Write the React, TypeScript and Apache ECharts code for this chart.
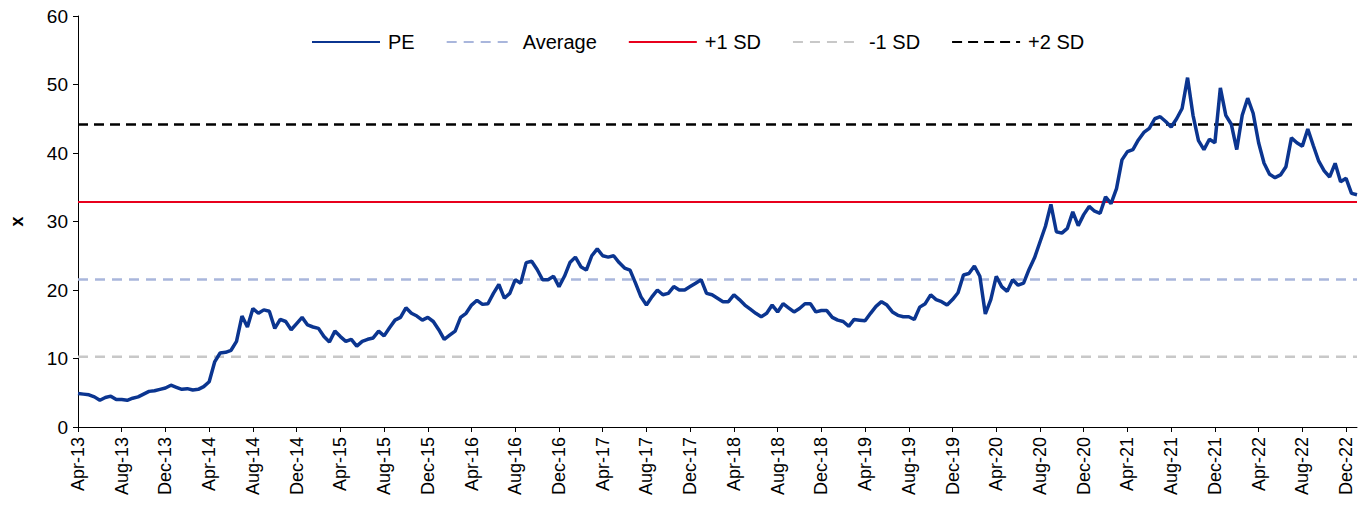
import React, { useEffect, useRef } from "react";
import * as echarts from "echarts";

// Half-monthly PE readings, starting Apr-2013 (two points per month)
const PE_VALUES: number[] = [
  4.9, 4.8, 4.7, 4.4, 3.9, 4.3, 4.5, 4.0, 4.0, 3.9, 4.2, 4.4, 4.8, 5.2, 5.3, 5.5, 5.7, 6.1, 5.8, 5.5,
  5.6, 5.4, 5.5, 5.9, 6.6, 9.5, 10.8, 10.9, 11.2, 12.5, 16.2, 14.6, 17.3, 16.6, 17.1, 16.9, 14.4, 15.7, 15.4, 14.2,
  15.1, 16.0, 14.9, 14.6, 14.4, 13.2, 12.4, 14.0, 13.2, 12.5, 12.8, 11.8, 12.5, 12.8, 13.0, 14.0, 13.3, 14.5, 15.6, 16.0,
  17.4, 16.6, 16.2, 15.6, 16.0, 15.4, 14.2, 12.8, 13.4, 14.0, 16.0, 16.6, 17.8, 18.5, 17.9, 18.0, 19.5, 20.8, 18.8, 19.5,
  21.5, 21.0, 24.0, 24.2, 23.0, 21.5, 21.5, 22.0, 20.5, 22.0, 24.0, 24.8, 23.4, 22.9, 25.0, 26.0, 25.0, 24.8, 25.0, 24.0,
  23.2, 22.9, 21.0, 19.0, 17.8, 19.0, 20.0, 19.3, 19.5, 20.5, 20.0, 20.0, 20.5, 21.0, 21.5, 19.5, 19.3, 18.8, 18.3, 18.3,
  19.3, 18.6, 17.8, 17.2, 16.6, 16.1, 16.6, 17.8, 16.8, 18.0, 17.4, 16.8, 17.3, 18.0, 18.0, 16.8, 17.0, 17.0, 16.0, 15.6,
  15.4, 14.7, 15.7, 15.6, 15.5, 16.6, 17.6, 18.3, 17.8, 16.8, 16.3, 16.1, 16.1, 15.7, 17.5, 18.0, 19.3, 18.6, 18.3, 17.8,
  18.6, 19.6, 22.2, 22.4, 23.5, 22.0, 16.5, 18.6, 22.0, 20.5, 19.8, 21.5, 20.7, 21.0, 23.0, 24.7, 27.0, 29.3, 32.5, 28.5,
  28.3, 29.0, 31.4, 29.4, 31.0, 32.2, 31.5, 31.2, 33.6, 32.6, 34.8, 39.0, 40.2, 40.5, 41.9, 43.0, 43.6, 45.0, 45.3, 44.6,
  43.8, 45.0, 46.5, 51.0, 45.5, 41.8, 40.5, 42.0, 41.5, 49.5, 45.5, 44.2, 40.5, 45.5, 48.0, 45.8, 41.5, 38.5, 36.9, 36.4,
  36.8, 38.0, 42.2, 41.5, 41.0, 43.5, 41.1, 38.8, 37.4, 36.5, 38.5, 35.8, 36.3, 34.1, 33.9,
];

const AVERAGE = 21.55;
const PLUS_1_SD = 32.85;
const MINUS_1_SD = 10.25;
const PLUS_2_SD = 44.15;

const MONTH_NAMES = ["Jan", "Feb", "Mar", "Apr", "May", "Jun", "Jul", "Aug", "Sep", "Oct", "Nov", "Dec"];
const START_YEAR = 2013;
const START_MONTH = 3; // April (0-based)

// Category names: two per month, first-half point carries the month label
const CATEGORIES: string[] = PE_VALUES.map((_, i) => {
  const mIdx = START_MONTH + Math.floor(i / 2);
  const y = START_YEAR + Math.floor(mIdx / 12);
  const label = MONTH_NAMES[mIdx % 12] + "-" + String(y % 100).padStart(2, "0");
  return i % 2 === 0 ? label : label + " (mid)";
});

const FONT = "'Liberation Sans', Arial, sans-serif";

export default function App() {
  const ref = useRef<HTMLDivElement>(null);

  useEffect(() => {
    document.body.style.margin = "0";
    if (!ref.current) return;
    const chart = echarts.init(ref.current, undefined, { renderer: "svg" });
    const showIdx = (idx: number) => idx % 8 === 0;
    const flat = (v: number) => CATEGORIES.map(() => v);

    chart.setOption({
      animation: false,
      backgroundColor: "#ffffff",
      textStyle: { fontFamily: FONT },
      grid: { left: 73, right: 14, top: 16, bottom: 80, containLabel: false },
      legend: {
        top: 27,
        left: 306,
        itemWidth: 68,
        itemHeight: 16,
        itemGap: 31,
        itemStyle: { opacity: 0 },
        textStyle: { fontFamily: FONT, fontSize: 20, color: "#000", padding: [0, 0, 0, 3] },
        data: ["PE", "Average", "+1 SD", "-1 SD", "+2 SD"],
      },
      xAxis: {
        type: "category",
        data: CATEGORIES,
        boundaryGap: false,
        axisLine: { lineStyle: { color: "#000", width: 1 } },
        axisTick: { interval: (i: number) => showIdx(i), length: 5, lineStyle: { color: "#000" } },
        axisLabel: {
          interval: (i: number) => showIdx(i),
          rotate: 90,
          fontSize: 18,
          fontFamily: FONT,
          color: "#000",
          margin: 10,
          formatter: (v: string) => v.replace(" (mid)", ""),
        },
        splitLine: { show: false },
      },
      yAxis: {
        type: "value",
        min: 0,
        max: 60,
        interval: 10,
        name: "x",
        nameLocation: "middle",
        nameRotate: 90,
        nameGap: 52,
        nameTextStyle: { fontFamily: FONT, fontSize: 18, fontWeight: "bold", color: "#000" },
        axisLine: { show: true, lineStyle: { color: "#000", width: 1 } },
        axisTick: { show: true, length: 5, lineStyle: { color: "#000" } },
        axisLabel: { fontSize: 19, fontFamily: FONT, color: "#000", margin: 10 },
        splitLine: { show: false },
      },
      series: [
        {
          name: "-1 SD",
          type: "line",
          data: flat(MINUS_1_SD),
          symbol: "none",
          lineStyle: { color: "#C8C8C8", width: 2.5, type: [10, 7] },
          itemStyle: { color: "#C8C8C8" },
          z: 1,
        },
        {
          name: "Average",
          type: "line",
          data: flat(AVERAGE),
          symbol: "none",
          lineStyle: { color: "#A9B6DC", width: 2.5, type: [10, 7] },
          itemStyle: { color: "#A9B6DC" },
          z: 1,
        },
        {
          name: "+1 SD",
          type: "line",
          data: flat(PLUS_1_SD),
          symbol: "none",
          lineStyle: { color: "#E8001C", width: 2 },
          itemStyle: { color: "#E8001C" },
          z: 1,
        },
        {
          name: "+2 SD",
          type: "line",
          data: flat(PLUS_2_SD),
          symbol: "none",
          lineStyle: { color: "#000000", width: 2.5, type: [10, 6] },
          itemStyle: { color: "#000000" },
          z: 1,
        },
        {
          name: "PE",
          type: "line",
          data: PE_VALUES,
          symbol: "none",
          lineStyle: { color: "#0B3590", width: 3.5 },
          itemStyle: { color: "#0B3590" },
          z: 3,
        },
      ],
    });
    return () => chart.dispose();
  }, []);

  return <div ref={ref} style={{ width: 1371, height: 507 }} />;
}
